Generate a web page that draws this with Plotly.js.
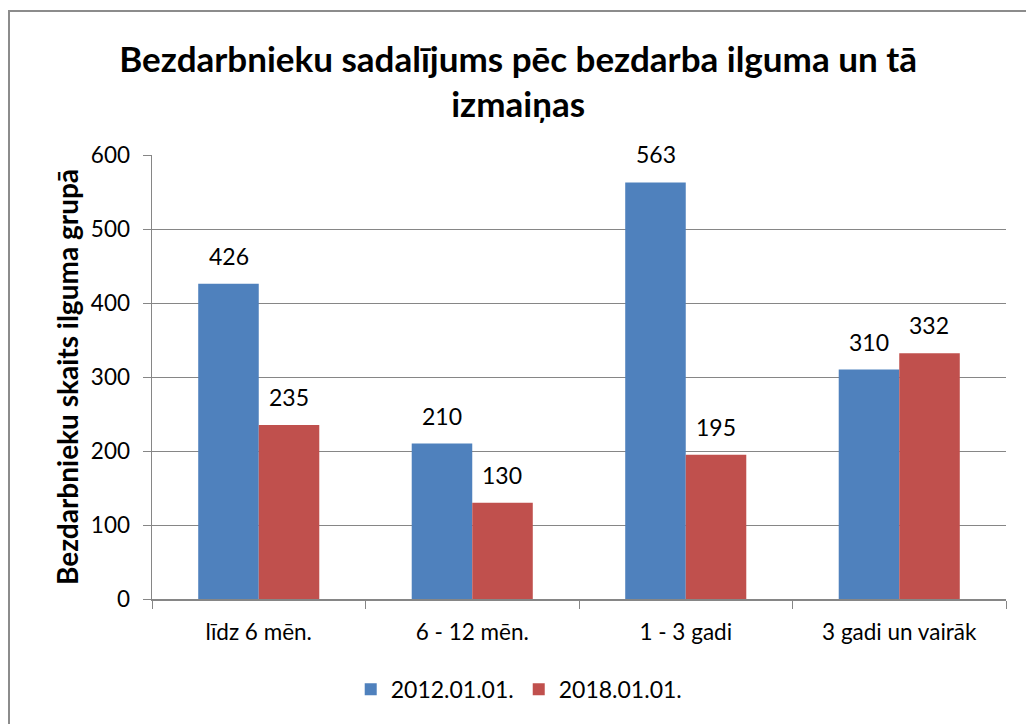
<!DOCTYPE html>
<html><head><meta charset="utf-8">
<script src="https://cdn.plot.ly/plotly-3.0.1.min.js"></script>
<style>
html,body{margin:0;padding:0;background:#fff;}
#wrap{position:relative;width:1026px;height:724px;}
#chart{width:1026px;height:724px;}
#frame{position:absolute;left:8px;top:10px;width:1030px;height:730px;border-top:2px solid #8c8c8c;border-left:2px solid #8c8c8c;pointer-events:none;}
</style></head>
<body>
<div id="wrap"><div id="chart"></div><div id="frame"></div></div>
<script>
const categories = ["līdz 6 mēn.", "6 - 12 mēn.", "1 - 3 gadi", "3 gadi un vairāk"];
const series2012 = [426, 210, 563, 310];
const series2018 = [235, 130, 195, 332];
const seriesNames = ["2012.01.01.", "2018.01.01."];
const yTicks = [0, 100, 200, 300, 400, 500, 600];

const font = "Lato, 'Noto Sans', sans-serif";
const traces = [
  {type:'bar', name:seriesNames[0], x:categories, y:series2012, marker:{color:'#4F81BD'}, hoverinfo:'skip'},
  {type:'bar', name:seriesNames[1], x:categories, y:series2018, marker:{color:'#C0504D'}, hoverinfo:'skip'}
];
const annotations = [];
categories.forEach((c,i)=>{
  annotations.push({x:c, y:series2012[i], xref:'x', yref:'y', text:String(series2012[i]), showarrow:false, xshift:-30, yshift:12, yanchor:'bottom', font:{family:font, size:23, color:'#000'}});
  annotations.push({x:c, y:series2018[i], xref:'x', yref:'y', text:String(series2018[i]), showarrow:false, xshift:30, yshift:12, yanchor:'bottom', font:{family:font, size:23, color:'#000'}});
});
const layout = {
  width:1026, height:724,
  margin:{l:152, r:20, t:155, b:125},
  paper_bgcolor:'#fff', plot_bgcolor:'#fff',
  barmode:'group', bargap:0.433, bargroupgap:0,
  title:{text:"<b>Bezdarbnieku sadalījums pēc bezdarba ilguma un tā<br>izmaiņas</b>", x:0.505, xanchor:'center', yref:'container', y:0.901, yanchor:'top', font:{family:font, size:35, color:'#000'}},
  xaxis:{type:'category', tickson:'boundaries', ticks:'outside', ticklen:8, tickcolor:'#868686', showline:true, linecolor:'#868686', linewidth:1.5, tickfont:{family:font, size:22.5, color:'#000'}, ticklabelstandoff:12, showgrid:false},
  yaxis:{range:[0,600], tickvals:yTicks, ticks:'outside', ticklen:8, tickcolor:'#868686', showline:true, linecolor:'#868686', linewidth:1.5, gridcolor:'#868686', gridwidth:1, zeroline:false, tickfont:{family:font, size:22.5, color:'#000'}, ticklabelstandoff:8,
    title:{text:"<b>Bezdarbnieku skaits ilguma grupā</b>", font:{family:font, size:28, color:'#000'}, standoff:4}},
  legend:{orientation:'h', x:0.43, xanchor:'center', y:-0.155, yanchor:'top', font:{family:font, size:23, color:'#000'}, traceorder:'normal'},
  annotations:annotations,
  showlegend:true
};
Plotly.newPlot('chart', traces, layout, {displayModeBar:false, staticPlot:true});
</script>
</body></html>
